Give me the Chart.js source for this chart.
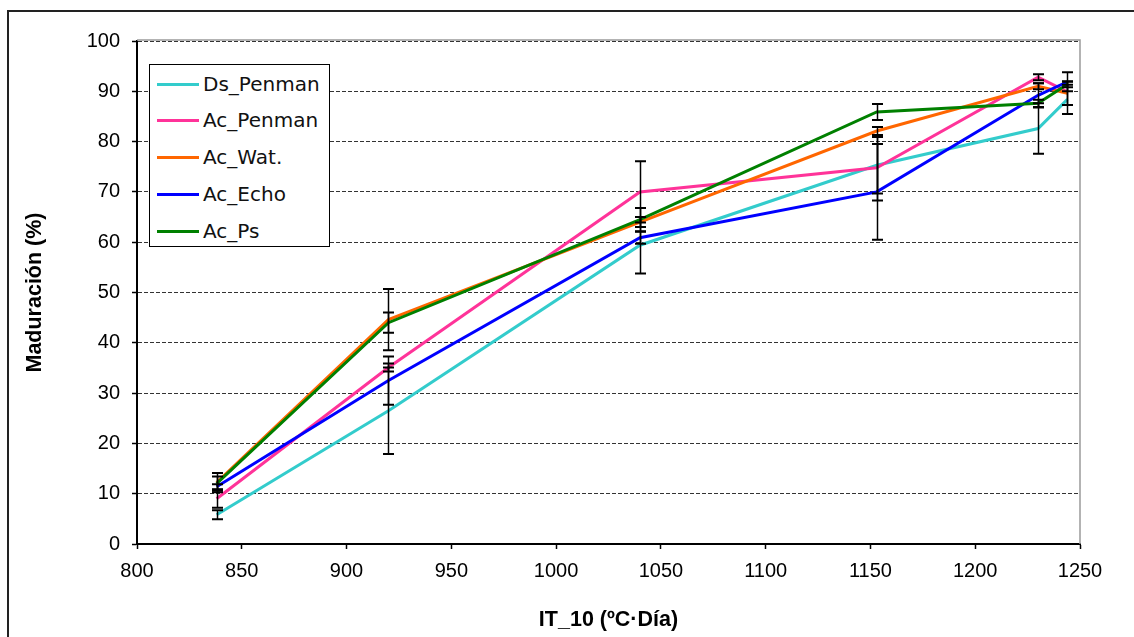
<!DOCTYPE html>
<html>
<head>
<meta charset="utf-8">
<script src="https://cdn.jsdelivr.net/npm/chart.js@4/dist/chart.umd.min.js"></script>
<style>
  html, body { margin: 0; padding: 0; background: #fff; }
  #wrap { position: relative; width: 1134px; height: 637px; }
  #legend {
    position: absolute; left: 149px; top: 64px; width: 179px; height: 181px;
    border: 1.5px solid #000; background: #fff;
    font-family: 'DejaVu Sans', Verdana, sans-serif; font-size: 20px; color: #111;
  }
  #legend .item { position: absolute; left: 7px; height: 24px; line-height: 24px; white-space: nowrap; }
  #legend .sw { display: inline-block; width: 42px; height: 3px; vertical-align: middle; margin-right: 4px; position: relative; top: -1px; }
</style>
</head>
<body>
<div id="wrap">
  <canvas id="chart" width="1134" height="637"></canvas>
  <div id="legend"></div>
</div>
<script>
// IT_10 (ºC·Día) de cada muestreo
var itDias = [838, 920, 1040, 1153, 1230, 1244];

// Maduración (%)
var dsPenman = [5.8, 26.5, 59.4, 75.3, 82.6, 88.4];
var acPenman = [9.0, 35.1, 70.0, 74.8, 92.8, 89.9];
var acWat    = [12.2, 44.6, 64.0, 82.1, 91.0, 89.6];
var acEcho   = [11.4, 32.5, 60.9, 70.0, 89.2, 91.9];
var acPs     = [12.0, 44.0, 64.5, 85.9, 87.6, 91.4];

// barras de error (+/-)
var errDsPenman = [0.9, 8.6, 5.6, 5.6, 5.0, 2.9];
var errAcPenman = [1.8, 0.8, 6.1, 6.5, 0.6, 0];
var errAcWat    = [1.9, 6.1, 1.0, 0.8, 0.6, 2.3];
var errAcEcho   = [0.5, 4.8, 1.2, 9.5, 2.4, 1.9];
var errAcPs     = [1.4, 2.0, 2.3, 1.6, 0.7, 0.6];

var nombres = ['Ds_Penman', 'Ac_Penman', 'Ac_Wat.', 'Ac_Echo', 'Ac_Ps'];
var colores = ['#33CCCC', '#FF3399', '#FF6600', '#0000FF', '#008000'];

var yTicks = [0, 100, 10];      // min, max, paso
var xTicks = [800, 1250, 50];

function puntos(arr) {
    return arr.map(function (v, i) { return { x: itDias[i], y: v }; });
}

var series = [dsPenman, acPenman, acWat, acEcho, acPs];
var errores = [errDsPenman, errAcPenman, errAcWat, errAcEcho, errAcPs];

var datasets = series.map(function (s, i) {
    return {
        label: nombres[i],
        data: puntos(s),
        errors: errores[i],
        borderColor: colores[i],
        backgroundColor: colores[i],
        borderWidth: 3,
        pointRadius: 0,
        tension: 0,
        order: series.length - i   // la ultima serie encima, como en Excel
    };
});

// marco exterior + borde gris del area de trazado
var marco = {
    id: 'marco',
    beforeDraw: function (chart) {
        var ctx = chart.ctx;
        ctx.save();
        ctx.fillStyle = '#fff';
        ctx.fillRect(0, 0, chart.width, chart.height);
        ctx.strokeStyle = '#222';
        ctx.lineWidth = 2;
        ctx.strokeRect(8, 11, 1140, 650);
        ctx.restore();
    },
    beforeDatasetsDraw: function (chart) {
        var a = chart.chartArea, ctx = chart.ctx;
        ctx.save();
        ctx.strokeStyle = '#9a9a9a';
        ctx.lineWidth = 1.5;
        ctx.beginPath();
        ctx.moveTo(a.left, a.top - 1);
        ctx.lineTo(a.right, a.top - 1);
        ctx.lineTo(a.right, a.bottom);
        ctx.stroke();
        ctx.restore();
    }
};

var barrasError = {
    id: 'barrasError',
    afterDatasetsDraw: function (chart) {
        var ctx = chart.ctx, xs = chart.scales.x, ys = chart.scales.y;
        ctx.save();
        ctx.strokeStyle = '#000';
        chart.data.datasets.forEach(function (ds) {
            (ds.errors || []).forEach(function (e, i) {
                if (!e) return;
                var p = ds.data[i];
                var px = Math.round(xs.getPixelForValue(p.x)) + 0.5;
                var hi = ys.getPixelForValue(p.y + e), lo = ys.getPixelForValue(p.y - e);
                ctx.lineWidth = 1.5;
                ctx.beginPath(); ctx.moveTo(px, hi); ctx.lineTo(px, lo); ctx.stroke();
                ctx.lineWidth = 2;
                ctx.beginPath();
                ctx.moveTo(px - 5.5, hi); ctx.lineTo(px + 5.5, hi);
                ctx.moveTo(px - 5.5, lo); ctx.lineTo(px + 5.5, lo);
                ctx.stroke();
            });
        });
        ctx.restore();
    }
};

var fTick = { family: "'Liberation Sans', Arial, sans-serif", size: 20 };
var fTitulo = { family: "'Liberation Sans', Arial, sans-serif", size: 21.5, weight: 'bold' };

var ctx = document.getElementById('chart').getContext('2d');
window.miGrafico = new Chart(ctx, {
    type: 'line',
    data: { datasets: datasets },
    plugins: [marco, barrasError],
    options: {
        responsive: false,
        animation: false,
        layout: { padding: { left: 10, right: 54, top: 41, bottom: 0 } },
        plugins: { legend: { display: false }, tooltip: { enabled: false } },
        scales: {
            x: {
                type: 'linear',
                min: xTicks[0], max: xTicks[1],
                ticks: {
                    stepSize: xTicks[2], color: '#000', font: fTick, padding: 10, maxRotation: 0,
                    callback: function (v) { return String(v); }
                },
                grid: { drawOnChartArea: false, drawTicks: true, tickLength: 5, tickColor: '#000', tickWidth: 1.5 },
                border: { display: true, color: '#000', width: 2 },
                title: { display: true, text: 'IT_10 (ºC·Día)', color: '#000', font: fTitulo, padding: { bottom: 4 } },
                afterFit: function (s) { s.height = 93; }
            },
            y: {
                min: yTicks[0], max: yTicks[1],
                ticks: { stepSize: yTicks[2], color: '#000', font: fTick, padding: 12 },
                grid: { color: '#333', lineWidth: 1, drawTicks: true, tickLength: 5, tickColor: '#000', tickWidth: 1.5, tickBorderDash: [] },
                border: { display: true, color: '#000', width: 2, dash: [4, 2] },
                title: { display: true, text: 'Maduración (%)', color: '#000', font: fTitulo, padding: { top: 12 } },
                afterFit: function (s) { s.width = 127; }
            }
        }
    }
});

// leyenda con recuadro, dentro del area de trazado
var leyenda = document.getElementById('legend');
var yCentros = [19, 55, 92, 129, 166];
datasets.forEach(function (ds, i) {
    var d = document.createElement('div');
    d.className = 'item';
    d.style.top = (yCentros[i] - 12) + 'px';
    d.innerHTML = "<span class='sw' style='background:" + ds.borderColor + "'></span>" + ds.label;
    leyenda.appendChild(d);
});
</script>
</body>
</html>
